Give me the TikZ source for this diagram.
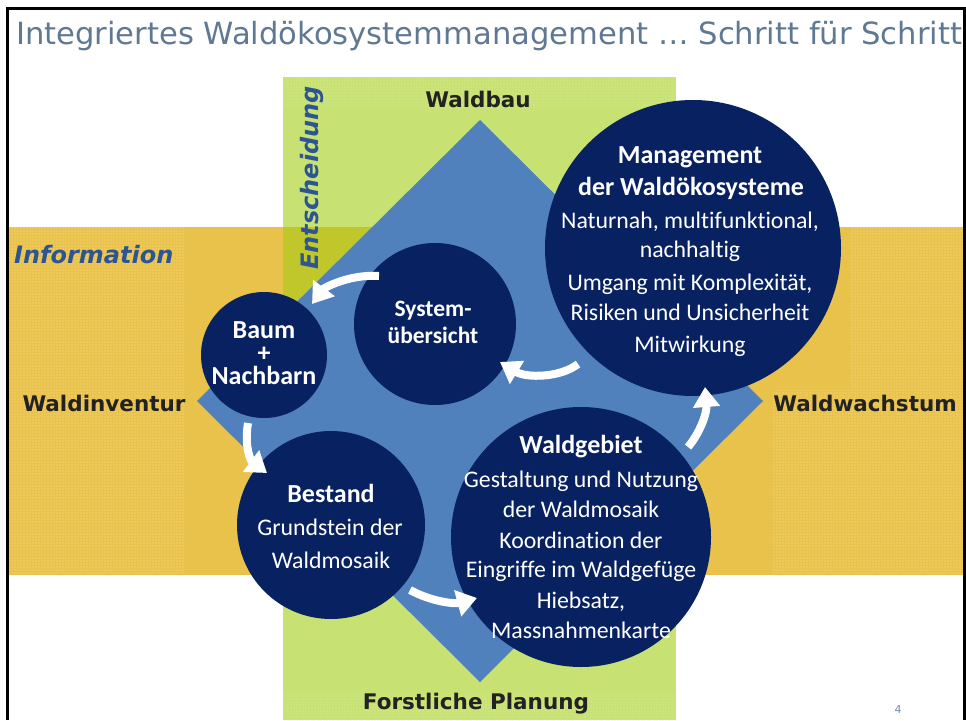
\documentclass[tikz,border=0pt]{standalone}
\usepackage{fontspec}
\setmainfont{DejaVu Sans}
\newfontfamily\calfont{Carlito}[Ligatures=NoCommon]
\newfontfamily\djv{DejaVu Sans}
\usetikzlibrary{arrows.meta,calc,patterns.meta}
\definecolor{navy}{RGB}{8,33,96}
\definecolor{dblue}{RGB}{80,129,189}
\definecolor{ybase}{RGB}{233,194,76}
\definecolor{ydot}{RGB}{246,222,150}
\definecolor{gbase}{RGB}{199,225,114}
\definecolor{gdot}{RGB}{220,238,170}
\definecolor{olive}{RGB}{192,199,42}
\definecolor{ttlc}{RGB}{95,120,147}
\definecolor{labc}{RGB}{34,34,34}
\definecolor{infoc}{RGB}{45,85,148}
\definecolor{pgc}{RGB}{120,140,165}
\tikzset{
  circ/.style={circle, fill=navy, draw=none, inner sep=0pt},
  hd/.style={anchor=base, text=white, inner sep=0pt, font=\calfont\bfseries\fontsize{26}{28}\selectfont},
  bd/.style={anchor=base, text=white, inner sep=0pt, font=\calfont\fontsize{23.8}{26}\selectfont},
  lab/.style={anchor=base, text=labc, inner sep=0pt, font=\djv\bfseries\fontsize{21.5}{24}\selectfont},
  side/.style={anchor=base, text=infoc, inner sep=0pt, font=\djv\bfseries\itshape\fontsize{24}{26}\selectfont},
  arr/.style={draw=white, line width=8pt, -{Triangle[length=20pt,width=26pt]}},
  ydots/.style={pattern={Dots[distance=3pt, radius=0.55pt]}, pattern color=ydot},
  gdots/.style={pattern={Dots[distance=3pt, radius=0.55pt]}, pattern color=gdot}
}
\begin{document}
\begin{tikzpicture}[x=1pt,y=-1pt]
\useasboundingbox (0,0) rectangle (966,720);
\fill[white] (0,0) rectangle (966,720);
% bands
\fill[ybase] (9,227) rectangle (963,575);
\fill[ydots] (9,227) rectangle (185,575);
\fill[ydots] (850,227) rectangle (963,575);
\fill[ydots] (772,390) rectangle (850,575);
\fill[gbase] (283,77) rectangle (676,720);
\fill[gdots] (283,77) rectangle (676,107);
\fill[gdots] (283,693) rectangle (676,720);
\fill[olive] (283,227) rectangle (676,575);
% diamond
\fill[dblue] (480,120) -- (763,401) -- (480,682) -- (197,401) -- cycle;
% frame
\draw[line width=3pt] (7.5,720) -- (7.5,8.5) -- (964.5,8.5) -- (964.5,720);
% title
\node[anchor=base west, inner sep=0pt, text=ttlc, font=\djv\fontsize{30.6}{32}\selectfont] (title) at (16,44) {Integriertes Waldökosystemmanagement … Schritt für Schritt};
% side labels
\node[lab] (waldbau) at (478,107) {Waldbau};
\node[lab] (inventur) at (104,411) {Waldinventur};
\node[lab] (wachstum) at (865,411) {Waldwachstum};
\node[lab] (planung) at (476,709) {Forstliche Planung};
\node[side, anchor=base west] (info) at (14,263) {Information};
\node[side, rotate=90] (entsch) at (318,178) {Entscheidung};
% circles
\node[circ, minimum size=296pt] (mgmt) at (693,248) {};
\node[circ, minimum size=162pt] (sys) at (435,324) {};
\node[circ, minimum size=126pt] (baum) at (264,355) {};
\node[circ, minimum size=188pt] (best) at (331,525) {};
\node[circ, minimum size=260pt] (wgeb) at (581,537) {};
% circle texts
\node[hd] (mg1) at (690,163) {Management};
\node[hd] (mg2) at (691,195) {der Waldökosysteme};
\node[bd] (mg3) at (690,228) {Naturnah, multifunktional,};
\node[bd] (mg4) at (690,257) {nachhaltig};
\node[bd] (mg5) at (690,290) {Umgang mit Komplexität,};
\node[bd] (mg6) at (690,320) {Risiken und Unsicherheit};
\node[bd] (mg7) at (690,352) {Mitwirkung};
\node[hd, font=\calfont\bfseries\fontsize{23.5}{26}\selectfont] (sy1) at (433,316) {System-};
\node[hd, font=\calfont\bfseries\fontsize{23.5}{26}\selectfont] (sy2) at (433,343) {übersicht};
\node[hd, anchor=center, align=center, font=\calfont\bfseries\fontsize{26}{23}\selectfont] (batxt) at (264,353) {Baum\\+\\Nachbarn};
\node[hd] (be1) at (331,502) {Bestand};
\node[bd] (be2) at (330,535) {Grundstein der};
\node[bd] (be3) at (331,568) {Waldmosaik};
\node[hd] (wg1) at (581,453) {Waldgebiet};
\node[bd] (wg2) at (581,487) {Gestaltung und Nutzung};
\node[bd] (wg3) at (581,517) {der Waldmosaik};
\node[bd] (wg4) at (581,548) {Koordination der};
\node[bd] (wg5) at (581,577) {Eingriffe im Waldgefüge};
\node[bd] (wg6) at (581,608) {Hiebsatz,};
\node[bd] (wg7) at (581,638) {Massnahmenkarte};
% page number
\node[anchor=base, inner sep=0pt, text=pgc, font=\djv\fontsize{11}{12}\selectfont] (pgno) at (898,713) {4};
% arrow end points
\coordinate (a1s) at ([shift={(-56,-48)}]sys.center);
\coordinate (a1e) at ([shift={(48,-51)}]baum.center);
\coordinate (a2s) at ([shift={(-16,68)}]baum.center);
\coordinate (a2e) at ([shift={(-64,-52)}]best.center);
\coordinate (a3s) at ([shift={(79,65)}]best.center);
\coordinate (a3e) at ([shift={(-104,61)}]wgeb.center);
\coordinate (a4s) at ([shift={(107,-90)}]wgeb.center);
\coordinate (a4e) at ([shift={(12,139)}]mgmt.center);
\coordinate (a5s) at ([shift={(-115,116)}]mgmt.center);
\coordinate (a5e) at ([shift={(65,38)}]sys.center);
% arrows
\draw[arr] (a1s) .. controls ++(-30,-2) and ++(12,-16) .. (a1e);
\draw[arr] (a2s) .. controls ++(-4,24) and ++(-16,-12) .. (a2e);
\draw[arr] (a3s) .. controls ++(22,12) and ++(-22,6) .. (a3e);
\draw[arr] (a4s) .. controls ++(12,-14) and ++(2,26) .. (a4e);
\draw[arr] (a5s) .. controls ++(-18,14) and ++(26,16) .. (a5e);
\end{tikzpicture}
\end{document}
